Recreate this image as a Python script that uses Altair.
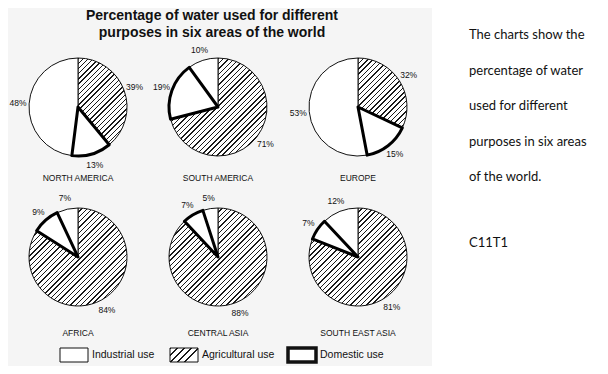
import math
import altair as alt
import pandas as pd

regions = ["NORTH AMERICA", "SOUTH AMERICA", "EUROPE", "AFRICA", "CENTRAL ASIA", "SOUTH EAST ASIA"]
uses = ["Agricultural", "Domestic", "Industrial"]
agricultural = [39, 71, 32, 84, 88, 81]
domestic = [13, 19, 15, 9, 7, 7]
industrial = [48, 10, 53, 7, 5, 12]

legend_labels = ["Industrial use", "Agricultural use", "Domestic use"]
title_lines = ["Percentage of water used for different", "purposes in six areas of the world"]
note_lines = ["The charts show the", "percentage of water", "used for different",
              "purposes in six areas", "of the world."]
note_code = "C11T1"

rows = []
for i, r in enumerate(regions):
    for u, v in zip(uses, (agricultural[i], domestic[i], industrial[i])):
        rows.append({"region": r, "use": u, "value": v, "idx": i})
df = pd.DataFrame(rows)

R = 49
SPACING = 3.7


def hatch_for_box(w, h, s=SPACING, line=1.0):
    """Diagonal '/' stripes as a bounding-box linear gradient, 45 degrees on screen."""
    n = max(1, round((w * w + h * h) / (w * math.sqrt(2) * s)))
    frac = min(0.5, line / s)
    stops = []
    for k in range(n):
        a = k / n
        b = (k + frac) / n
        c = (k + 1) / n
        stops += [
            {"offset": a, "color": "#1a1a1a"},
            {"offset": b, "color": "#1a1a1a"},
            {"offset": b, "color": "#ffffff"},
            {"offset": c, "color": "#ffffff"},
        ]
    return {"gradient": "linear", "x1": 0, "y1": 0, "x2": 1, "y2": h / w, "stops": stops}


def slice_box(pct, r=R):
    ang = pct / 100 * 2 * math.pi
    xs, ys = [0.0], [0.0]
    steps = 400
    for k in range(steps + 1):
        a = ang * k / steps
        xs.append(r * math.sin(a))
        ys.append(-r * math.cos(a))
    return max(xs) - min(xs), max(ys) - min(ys)


fill_conditions = []
for r, a in zip(regions, agricultural):
    w, h = slice_box(a)
    fill_conditions.append({
        "test": f"datum.use == 'Agricultural' && datum.region == '{r}'",
        "value": hatch_for_box(w, h),
    })

FONT = "Liberation Sans"

base = (
    alt.Chart(df)
    .transform_calculate(
        ord="indexof(['Agricultural','Domestic','Industrial'], datum.use)",
        col="datum.idx % 3",
        row="floor(datum.idx / 3)",
    )
    .transform_window(cum="sum(value)", groupby=["region"], sort=[alt.SortField("ord")], frame=[None, 0])
    .transform_calculate(start="datum.cum - datum.value", mid="datum.cum - datum.value / 2",
                         label="datum.value + '%'",
                         namey="datum.row + (71 + 5 * datum.row) / 150")
)

YS = alt.Scale(domain=[0, 1], range=[99, 249], nice=False, zero=False)
X = alt.X("col:Q", scale=alt.Scale(domain=[0, 2], range=[70, 350], nice=False, zero=False), axis=None)
Y = alt.Y("row:Q", scale=YS, axis=None)
TS = alt.Scale(domain=[0, 100], range=[0, 6.283185307])

arcs = base.mark_arc(radius=R, stroke="#111111", strokeWidth=1).encode(
    x=X, y=Y,
    theta=alt.Theta("start:Q", scale=TS),
    theta2=alt.Theta2("cum:Q"),
    fill={"condition": fill_conditions, "value": "white"},
)

dom = base.transform_filter(alt.datum.use == "Domestic").mark_arc(
    radius=R, fill="white", stroke="#000000", strokeWidth=3, strokeJoin="round"
).encode(
    x=X, y=Y,
    theta=alt.Theta("start:Q", scale=TS),
    theta2=alt.Theta2("cum:Q"),
)

labels = base.mark_text(radius=60, fontSize=8.5, font=FONT, color="#111111").encode(
    x=X, y=Y,
    theta=alt.Theta("mid:Q", scale=TS),
    text=alt.Text("label:N"),
)

names = base.transform_filter(alt.datum.use == "Industrial").mark_text(
    fontSize=8.5, font=FONT, color="#111111"
).encode(x=X, y=alt.Y("namey:Q", scale=YS, axis=None), text=alt.Text("region:N"))

one = pd.DataFrame({"a": [0]})

bg = alt.Chart(one).mark_rect(color="#f5f5f5").encode(
    x=alt.value(0), x2=alt.value(424), y=alt.value(0), y2=alt.value(358)
)

title = alt.Chart(one).mark_text(
    fontSize=14, fontWeight="bold", font=FONT, align="center", baseline="alphabetic",
    lineHeight=17, color="#111111"
).encode(x=alt.value(204), y=alt.value(11.5), text=alt.value(title_lines))

legend_layers = []
box_x = [52, 162, 280]
fills = ["white", hatch_for_box(28, 14, s=4.6), "white"]
widths = [1, 1, 3.5]
for bx, f, w, lab in zip(box_x, fills, widths, legend_labels):
    legend_layers.append(
        alt.Chart(one).mark_rect(fill=f, stroke="#111111", strokeWidth=w).encode(
            x=alt.value(bx), x2=alt.value(bx + 28), y=alt.value(340), y2=alt.value(354)
        )
    )
    legend_layers.append(
        alt.Chart(one).mark_text(fontSize=10.5, font=FONT, align="left", baseline="middle",
                                 color="#111111").encode(
            x=alt.value(bx + 32), y=alt.value(347), text=alt.value(lab)
        )
    )

note = alt.Chart(one).mark_text(
    fontSize=13, font="Lato", align="left", baseline="alphabetic", lineHeight=35.5, color="#111111"
).encode(x=alt.value(461), y=alt.value(31), text=alt.value(note_lines))

code = alt.Chart(one).mark_text(
    fontSize=13, font="Lato", align="left", baseline="alphabetic", color="#111111"
).encode(x=alt.value(461), y=alt.value(239), text=alt.value(note_code))

chart = alt.layer(bg, arcs, dom, labels, names, title, *legend_layers, note, code).properties(
    width=592, height=358, autosize=alt.AutoSizeParams(type="none"), padding=0, background="white"
).configure_view(strokeWidth=0)

chart.save("out.html", embed_options={"renderer": "svg", "actions": False})
